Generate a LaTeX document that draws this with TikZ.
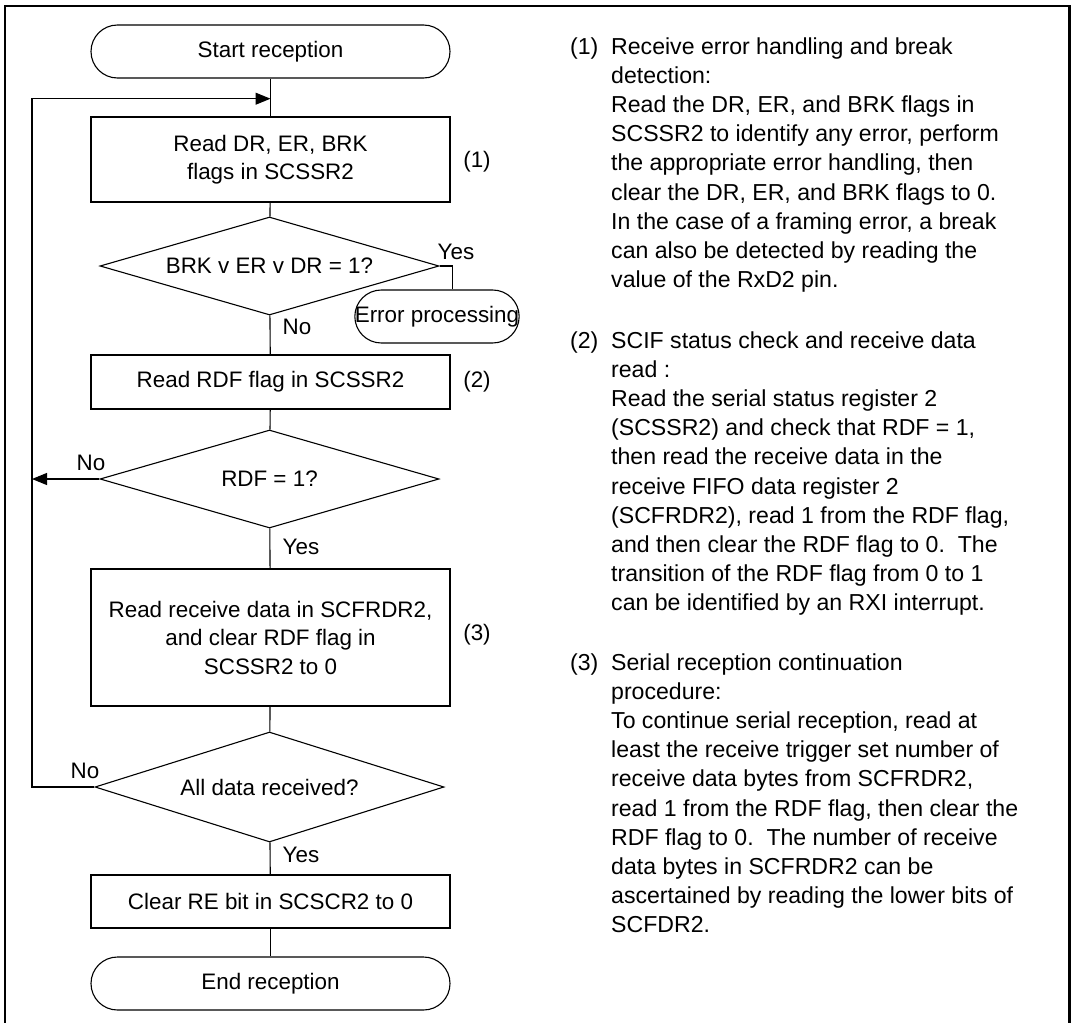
\documentclass[tikz,border=0pt]{standalone}
\usepackage{fontspec}
\setmainfont{Liberation Sans}
\usetikzlibrary{shapes.geometric,arrows.meta}
\begin{document}
\begin{tikzpicture}[x=1pt,y=-1pt,
  every node/.style={font=\fontsize{22.4}{28.5}\selectfont},
  line/.style={line width=1.1pt},
  arr/.style={line width=1.1pt,-{Triangle[length=15pt,width=12pt]}},
  proc/.style={draw,line width=1.1pt,rectangle,minimum width=359pt,inner sep=0pt,align=center},
  term/.style={draw,line width=1.1pt,rectangle,rounded corners=26.5pt,minimum width=359pt,minimum height=53pt,inner sep=0pt},
  dec/.style={draw,line width=1.1pt,diamond,inner sep=0pt},
  lbl/.style={inner sep=0pt},
  txt/.style={inner sep=0pt,anchor=base west,font=\fontsize{23.1}{29.2}\selectfont},
]
\useasboundingbox (0,0) rectangle (1072,1023);
% frame (open at bottom)
\draw[line width=2.3pt] (5,1030) -- (5,6) -- (1069.5,6) -- (1069.5,1030);

% flowchart
\node[term] (start) at (270.5,51.5) {Start reception};
\node[proc,minimum height=85pt] (b1) at (270.5,159.5) {Read DR, ER, BRK\\flags in SCSSR2};
\node[dec,minimum width=339pt,minimum height=98pt,aspect=3.46] (d1) at (269.5,266) {BRK v ER v DR = 1?};
\node[term,minimum width=160pt] (err) at (437,316.5) {Error processing};
\node[proc,minimum height=54pt] (b2) at (270.5,382) {Read RDF flag in SCSSR2};
\node[dec,minimum width=339pt,minimum height=98pt,aspect=3.46] (d2) at (269.5,479) {RDF = 1?};
\node[proc,minimum height=137pt] (b3) at (270.5,637.5) {Read receive data in SCFRDR2,\\and clear RDF flag in\\SCSSR2 to 0};
\node[dec,minimum width=349pt,minimum height=110pt,aspect=3.17] (d3) at (269.5,787) {All data received?};
\node[proc,minimum height=53pt] (b4) at (270.5,901.5) {Clear RE bit in SCSCR2 to 0};
\node[term] (end) at (270.5,983.5) {End reception};

\coordinate (loopc) at (32,98.7);
\coordinate (yesc) at (452.7,266);

\draw[line] (start) -- (b1);
\draw[line] (b1) -- (d1);
\draw[line] (d1.east) -- (yesc) -- (yesc |- err.north);
\draw[line] (d1) -- (b2);
\draw[line] (b2) -- (d2);
\draw[line] (d2) -- (b3);
\draw[line] (b3) -- (d3);
\draw[line] (d3) -- (b4);
\draw[line] (b4) -- (end);
\draw[arr] (d3.west) -| (loopc) -- (loopc -| start);
\draw[arr] (d2.west) -- (d2.west -| loopc);

% labels
\node[lbl] (y1) at (456,252) {Yes};
\node[lbl] (n1) at (297,327) {No};
\node[lbl] (n2) at (91,463) {No};
\node[lbl] (y2) at (301,547) {Yes};
\node[lbl] (n3) at (85,771) {No};
\node[lbl] (y3) at (301,855) {Yes};
\node[lbl] (s1) at (477,162) {(1)};
\node[lbl] (s2) at (477,382) {(2)};
\node[lbl] (s3) at (477,635) {(3)};

% notes
\node[txt] (p1n) at (570,54) {(1)};
\foreach \t [count=\i from 0] in {{Receive error handling and break},{detection:},{Read the DR, ER, and BRK flags in},{SCSSR2 to identify any error, perform},{the appropriate error handling, then},{clear the DR, ER, and BRK flags to 0.},{In the case of a framing error, a break},{can also be detected by reading the},{value of the RxD2 pin.}}
  \node[txt] (p1l\i) at (611,54+29.2*\i) {\t};

\node[txt] (p2n) at (570,348) {(2)};
\foreach \t [count=\i from 0] in {{SCIF status check and receive data},{read :},{Read the serial status register 2},{(SCSSR2) and check that RDF = 1,},{then read the receive data in the},{receive FIFO data register 2},{(SCFRDR2), read 1 from the RDF flag,},{and then clear the RDF flag to 0.\ \ The},{transition of the RDF flag from 0 to 1},{can be identified by an RXI interrupt.}}
  \node[txt] (p2l\i) at (611,348+29.2*\i) {\t};

\node[txt] (p3n) at (570,670) {(3)};
\foreach \t [count=\i from 0] in {{Serial reception continuation},{procedure:},{To continue serial reception, read at},{least the receive trigger set number of},{receive data bytes from SCFRDR2,},{read 1 from the RDF flag, then clear the},{RDF flag to 0.\ \ The number of receive},{data bytes in SCFRDR2 can be},{ascertained by reading the lower bits of},{SCFDR2.}}
  \node[txt] (p3l\i) at (611,670+29.2*\i) {\t};
\end{tikzpicture}
\end{document}
